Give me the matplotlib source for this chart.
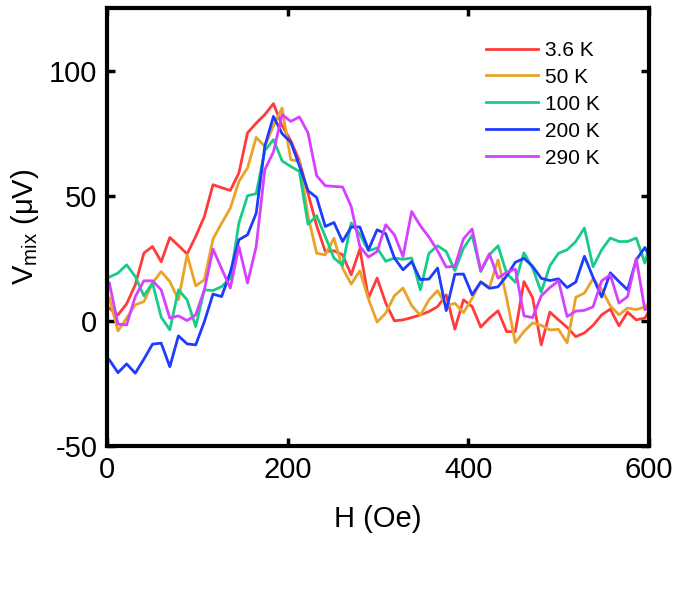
import numpy as np
import matplotlib
matplotlib.use("Agg")
import matplotlib.pyplot as plt

plt.rcParams['font.family'] = ['Liberation Sans', 'DejaVu Sans']
plt.rcParams['mathtext.fontset'] = 'custom'
plt.rcParams['mathtext.rm'] = 'Liberation Sans'
plt.rcParams['axes.unicode_minus'] = False

# field sweep (Oe), 64 points, last one a bit past 600 and clipped by the axes
field = np.linspace(2.6, 605.0, 64)

labels = ['3.6 K', '50 K', '100 K', '200 K', '290 K']
colors = ['#FF3B3B', '#E8A328', '#18CC88', '#1E3CFF', '#D640FF']

v_3p6K = [5, 2.4, 6.8, 14.4, 27.1, 29.7, 23.6, 33.3, 30.1, 26.7,
          33.7, 41.7, 54.4, 53.2, 52.1, 59.1, 75.1, 79, 82.4, 86.8,
          78, 72, 64, 51, 38, 27.7, 28, 26.4, 18.4, 28.7,
          9.1, 17.1, 7.1, 0, 0.4, 1.3, 2.4, 3.7, 5.7, 10.4,
          -3.3, 8.4, 5.7, -2.5, 1.1, 4, -4.3, -4.3, 15.7, 9.3,
          -9.6, 3.5, 0.4, -2.6, -6.3, -4.8, -1.8, 2.4, 4.7, -2,
          3.5, 0.4, 1.1, 6.7]
v_50K = [9.1, -4, 1.1, 6.4, 7.7, 15.1, 19.7, 15.7, 8.4, 26.4,
         14, 16.4, 32.7, 39, 45, 55.7, 61.1, 73.3, 69.7, 78,
         85, 64.4, 63.7, 42, 27, 26.4, 33, 21.1, 14.7, 20,
         8.7, -0.5, 3.1, 10, 13.1, 6.1, 2.2, 8.4, 12.1, 6,
         7, 3.3, 9, 15.7, 13.3, 24.4, 9, -8.7, -4.3, -0.8,
         -1.8, -3.6, -3.4, -8.8, 9.4, 11.1, 16.8, 12.5, 6, 2.4,
         5.1, 4.5, 5.5, 9]
v_100K = [17.5, 19.1, 22.4, 17.7, 10, 15.1, 1.5, -3.6, 12.4, 8.4,
          -2.3, 12.4, 12.1, 13.7, 17, 39.1, 50, 50.8, 68, 72.4,
          63.9, 61.7, 59.7, 38.6, 42, 33.7, 25.1, 22.2, 39.1, 34.5,
          28, 29.1, 23.8, 25.1, 24.6, 25.1, 12.4, 27, 30, 27.7,
          20.1, 29, 34.2, 19.7, 26.4, 30, 19, 15.4, 27.2, 21.1,
          11.5, 22, 27, 28.4, 31.7, 37.1, 21.6, 28.4, 33.1, 31.7,
          31.7, 33.1, 23.1, 35.9]
v_200K = [-15.6, -20.7, -17.2, -20.9, -15.3, -9.3, -8.9, -18.3, -6, -9.2,
          -9.6, -0.3, 10.7, 9.7, 19.4, 32.4, 34.4, 43, 69.8, 81.7,
          74.8, 71.4, 62, 52, 49.3, 37.7, 39.3, 31.7, 37.5, 37.5,
          28.4, 36.4, 34.8, 25.1, 20.4, 23.7, 16.5, 16.7, 21.1, 4.1,
          18.6, 18.7, 10.4, 15.5, 13, 13.6, 18, 23.4, 25, 21.8,
          17, 16.1, 16.8, 13.3, 15.5, 25.8, 17.4, 9.5, 19.2, 15.7,
          12.4, 24.4, 29.3, 22.8]
v_290K = [15.1, -1.3, -1.6, 9.7, 16, 16, 12.4, 1.1, 2, 0.1,
          2.4, 12.4, 28.7, 20.8, 13.1, 29.7, 15.1, 29.7, 60.4, 67.5,
          82.4, 79.7, 81.5, 75.1, 58, 54, 53.7, 53.5, 45.7, 29.7,
          25.5, 27.7, 38.4, 34.4, 25.7, 43.7, 38, 33.5, 28, 21.5,
          21.8, 32.8, 36.7, 20, 26.8, 17.1, 19.4, 20.7, 2, 1.3,
          10, 13.3, 16, 1.7, 3.9, 4.2, 5.6, 16, 18.4, 7.1,
          9.7, 24.9, 4.4, 7.2]
series = [v_3p6K, v_50K, v_100K, v_200K, v_290K]

fig = plt.figure(figsize=(6.8, 6.08), dpi=100)
ax = fig.add_axes([107/680, 1 - 446/608, 542/680, 438/608])

for v, c, lab in zip(series, colors, labels):
    ax.plot(field, v, color=c, lw=2.0, label=lab)

ax.set_xlim(0, 600)
ax.set_ylim(-50, 125)
ax.set_xticks([0, 200, 400, 600])
ax.set_yticks([-50, 0, 50, 100])
ax.tick_params(direction='in', length=6, width=2.5, labelsize=21, pad=7,
               top=True, right=True)
for s in ax.spines.values():
    s.set_linewidth(3)

ax.set_xlabel('H (Oe)', fontsize=21)
ax.set_ylabel('V$_{\\rm mix}$ (μV)', fontsize=21)
ax.xaxis.set_label_coords(0.5, -0.135)
ax.yaxis.set_label_coords(-0.122, 0.5)

ax.legend(loc='upper left', bbox_to_anchor=(0.70, 0.925), frameon=False,
          fontsize=15, handlelength=2.5, handletextpad=0.3,
          labelspacing=0.38, borderaxespad=0, borderpad=0)

fig.savefig('out.png', dpi=100)
